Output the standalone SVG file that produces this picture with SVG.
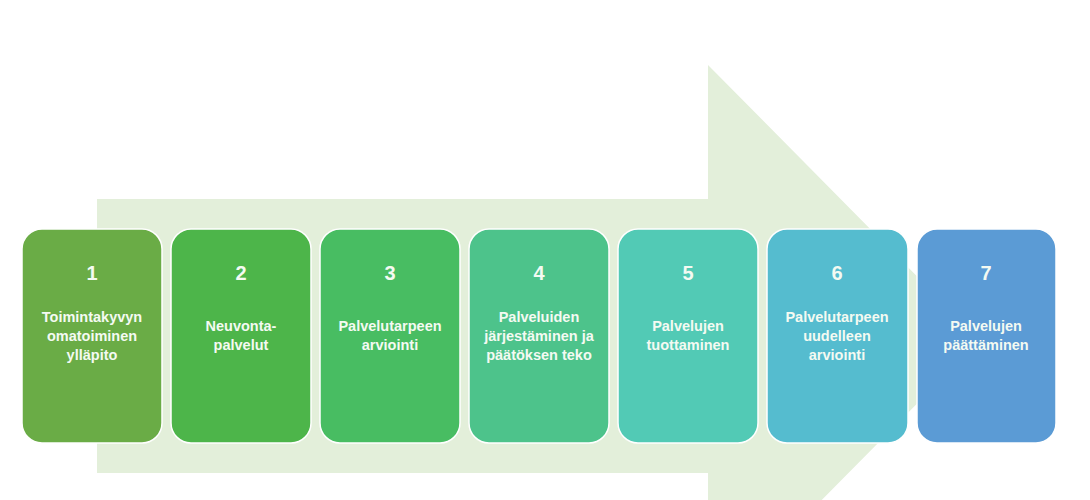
<svg xmlns="http://www.w3.org/2000/svg" width="1090" height="500" viewBox="0 0 1090 500">
<style>
.box{stroke:#ffffff;stroke-width:1.5}
.num{font-family:"Liberation Sans",Arial,sans-serif;font-weight:bold;font-size:20px;fill:#f4faf2;text-anchor:middle}
.lbl{font-family:"Liberation Sans",Arial,sans-serif;font-weight:bold;font-size:14.5px;fill:#f4faf2;text-anchor:middle}
</style>
<rect width="1090" height="500" fill="#ffffff"/>
<g id="arrow">
<path d="M97,199 L708,199 L708,65 L980,340 L708,615 L708,473 L97,473 Z" fill="#e3efda"/>
</g>
<g id="connectors"></g>
<g id="n1">
<rect class="box" x="22" y="229" width="140" height="214" rx="20" fill="#6aac46"/>
<text class="num" x="92" y="280">1</text>
<text class="lbl" x="92" y="322">Toimintakyvyn</text>
<text class="lbl" x="92" y="341">omatoiminen</text>
<text class="lbl" x="92" y="360">ylläpito</text>
</g>
<g id="n2">
<rect class="box" x="171" y="229" width="140" height="214" rx="20" fill="#4db54a"/>
<text class="num" x="241" y="280">2</text>
<text class="lbl" x="241" y="331">Neuvonta-</text>
<text class="lbl" x="241" y="350">palvelut</text>
</g>
<g id="n3">
<rect class="box" x="320" y="229" width="140" height="214" rx="20" fill="#48bd62"/>
<text class="num" x="390" y="280">3</text>
<text class="lbl" x="390" y="331">Palvelutarpeen</text>
<text class="lbl" x="390" y="350">arviointi</text>
</g>
<g id="n4">
<rect class="box" x="469" y="229" width="140" height="214" rx="20" fill="#4dc38b"/>
<text class="num" x="539" y="280">4</text>
<text class="lbl" x="539" y="322">Palveluiden</text>
<text class="lbl" x="539" y="341">järjestäminen ja</text>
<text class="lbl" x="539" y="360">päätöksen teko</text>
</g>
<g id="n5">
<rect class="box" x="618" y="229" width="140" height="214" rx="20" fill="#52cab5"/>
<text class="num" x="688" y="280">5</text>
<text class="lbl" x="688" y="331">Palvelujen</text>
<text class="lbl" x="688" y="350">tuottaminen</text>
</g>
<g id="n6">
<rect class="box" x="767" y="229" width="141" height="214" rx="20" fill="#55bccf"/>
<text class="num" x="837" y="280">6</text>
<text class="lbl" x="837" y="322">Palvelutarpeen</text>
<text class="lbl" x="837" y="341">uudelleen</text>
<text class="lbl" x="837" y="360">arviointi</text>
</g>
<g id="n7">
<rect class="box" x="917" y="229" width="139" height="214" rx="20" fill="#5b9bd5"/>
<text class="num" x="986" y="280">7</text>
<text class="lbl" x="986" y="331">Palvelujen</text>
<text class="lbl" x="986" y="350">päättäminen</text>
</g>
</svg>
